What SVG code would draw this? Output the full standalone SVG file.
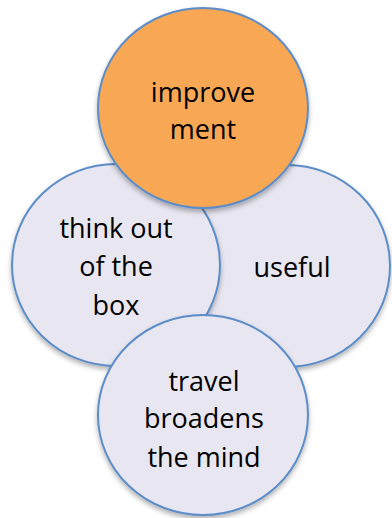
<svg xmlns="http://www.w3.org/2000/svg" width="392" height="518" viewBox="0 0 392 518">
<defs>
<filter id="sh" x="-20%" y="-20%" width="140%" height="140%">
<feDropShadow dx="0" dy="3" stdDeviation="2.5" flood-color="#000" flood-opacity="0.3"/>
</filter>
</defs>
<style>
.c{stroke:#5B8DC8;stroke-width:2;filter:url(#sh)}
.l{fill:#E8E6F0}
.o{fill:#F8A755}
text{font-family:"Open Sans","Liberation Sans",sans-serif;font-size:27px;fill:#000;text-anchor:middle}
</style>
<rect width="392" height="518" fill="#fff"/>
<g id="useful">
<ellipse class="c l" cx="287" cy="266" rx="103" ry="101"/>
<text x="292" y="277">useful</text>
</g>
<g id="think-out-of-the-box">
<ellipse class="c l" cx="116" cy="265" rx="104" ry="101"/>
<text x="116" y="238">think out</text>
<text x="116" y="276">of the</text>
<text x="116" y="315">box</text>
</g>
<g id="improvement">
<ellipse class="c o" cx="203" cy="108" rx="105" ry="100"/>
<text x="203" y="102">improve</text>
<text x="203" y="139">ment</text>
</g>
<g id="travel-broadens-the-mind">
<ellipse class="c l" cx="203" cy="415" rx="105" ry="100"/>
<text x="204" y="391">travel</text>
<text x="204" y="428">broadens</text>
<text x="204" y="467">the mind</text>
</g>
<g id="connectors"/>
</svg>
